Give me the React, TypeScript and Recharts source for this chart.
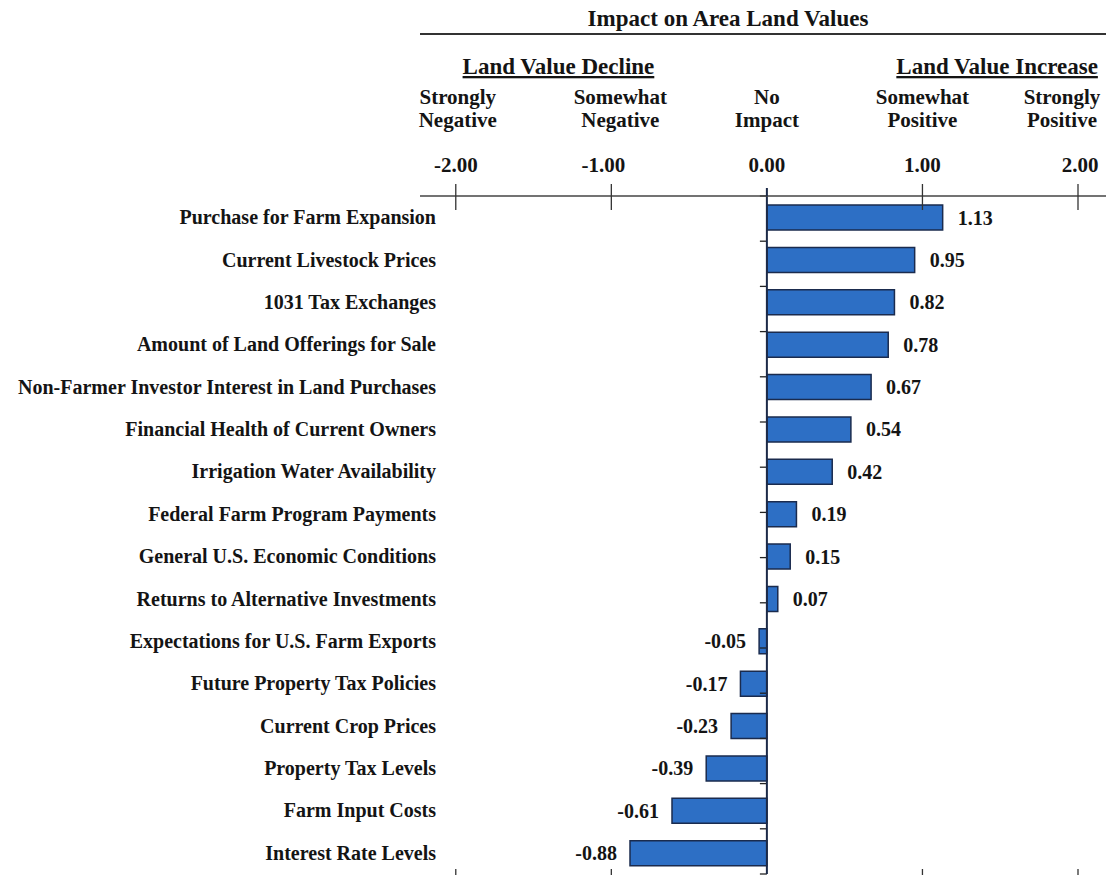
import React from 'react';
import { BarChart, Bar, XAxis, YAxis, ReferenceLine, LabelList } from 'recharts';

const categories = [
  'Purchase for Farm Expansion',
  'Current Livestock Prices',
  '1031 Tax Exchanges',
  'Amount of Land Offerings for Sale',
  'Non-Farmer Investor Interest in Land Purchases',
  'Financial Health of Current Owners',
  'Irrigation Water Availability',
  'Federal Farm Program Payments',
  'General U.S. Economic Conditions',
  'Returns to Alternative Investments',
  'Expectations for U.S. Farm Exports',
  'Future Property Tax Policies',
  'Current Crop Prices',
  'Property Tax Levels',
  'Farm Input Costs',
  'Interest Rate Levels',
];
const values = [1.13, 0.95, 0.82, 0.78, 0.67, 0.54, 0.42, 0.19, 0.15, 0.07, -0.05, -0.17, -0.23, -0.39, -0.61, -0.88];
const axisTicks = [-2, -1, 0, 1, 2];
const tickLabels = ['-2.00', '-1.00', '0.00', '1.00', '2.00'];
const scaleLabels = [
  ['Strongly', 'Negative'],
  ['Somewhat', 'Negative'],
  ['No', 'Impact'],
  ['Somewhat', 'Positive'],
  ['Strongly', 'Positive'],
];
const title = { text: 'Impact on Area Land Values', at: -0.25 };
const groupLabels = [
  { text: 'Land Value Decline', at: -1.34 },
  { text: 'Land Value Increase', at: 1.48 },
];
const boundaryTicks = [0, 1, 2, 3, 4, 5, 6, 7, 8, 9, 10, 11, 12, 13, 14, 15];
const domain: [number, number] = [-2.23, 2.18];

const data = categories.map((name, i) => ({ name, value: values[i] }));

const FONT = '"Liberation Serif", "Times New Roman", serif';
const INK = '#141414';
const BAR_FILL = '#2d6fc5';
const BAR_STROKE = '#1a2b4e';
const ZERO_LINE = '#1c2a48';

const scaleDx = [2, 9, 0, 0, -16];
const numDx = [0, -8, 0, 0, 2];

const TopTick = (props: any) => {
  const { x, y, payload } = props;
  const i = axisTicks.indexOf(payload.value);
  const lines = scaleLabels[i] || ['', ''];
  return (
    <g>
      {payload.value === 0 ? (
        <line x1={x} x2={x} y1={y - 8} y2={y} stroke={ZERO_LINE} strokeWidth={2} />
      ) : (
        <line x1={x} x2={x} y1={y - 12} y2={y + 14} stroke="#333" strokeWidth={1.3} />
      )}
      <text x={x + numDx[i]} y={y - 24} textAnchor="middle" fontFamily={FONT} fontWeight="bold" fontSize={21} fill={INK}>
        {tickLabels[i]}
      </text>
      <text x={x + scaleDx[i]} y={y - 92} textAnchor="middle" fontFamily={FONT} fontWeight="bold" fontSize={21} fill={INK}>
        {lines[0]}
      </text>
      <text x={x + scaleDx[i]} y={y - 69} textAnchor="middle" fontFamily={FONT} fontWeight="bold" fontSize={21} fill={INK}>
        {lines[1]}
      </text>
    </g>
  );
};

const BottomTick = (props: any) => {
  const { x, y, payload } = props;
  if (payload.value === 0) return <g />;
  return <line x1={x} x2={x} y1={y - 5} y2={y + 5} stroke="#333" strokeWidth={1.3} />;
};

const CategoryTick = (props: any) => {
  const { x, y, payload } = props;
  return (
    <text x={x + 16} y={y} dy="0.35em" textAnchor="end" fontFamily={FONT} fontWeight="bold" fontSize={20} fill={INK}>
      {payload.value}
    </text>
  );
};

const ValueLabel = (props: any) => {
  const { x, y, width, height, value } = props;
  const left = Math.min(x, x + width);
  const right = Math.max(x, x + width);
  const pos = value >= 0;
  return (
    <text
      x={pos ? right + 15 : left - 13}
      y={y + height / 2}
      dy="0.35em"
      textAnchor={pos ? 'start' : 'end'}
      fontFamily={FONT}
      fontWeight="bold"
      fontSize={20}
      fill={INK}
    >
      {Number(value).toFixed(2)}
    </text>
  );
};

const renderRule = (props: any) => {
  const vb = props.viewBox || {};
  const { x = 0, y = 0, width = 0 } = vb;
  return <line x1={x} x2={x + width} y1={y + 34} y2={y + 34} stroke="#333" strokeWidth={2} />;
};

const makeHeadLabel = (text: string, dy: number, underline: boolean) => (props: any) => {
  const vb = props.viewBox || {};
  return (
    <text
      x={vb.x}
      y={vb.y - dy}
      textAnchor="middle"
      fontFamily={FONT}
      fontWeight="bold"
      fontSize={23}
      fill={INK}
      textDecoration={underline ? 'underline' : undefined}
      style={underline ? { textDecoration: 'underline' } : undefined}
    >
      {text}
    </text>
  );
};

export default function App() {
  return (
    <div style={{ position: 'absolute', left: 0, top: 0, background: '#fff' }}>
      <BarChart
        width={1106}
        height={875}
        data={data}
        layout="vertical"
        margin={{ top: 0, right: 0, bottom: 0, left: 0 }}
        barSize={25}
      >
        <XAxis
          xAxisId="top"
          type="number"
          orientation="top"
          domain={domain}
          allowDataOverflow
          ticks={axisTicks}
          height={196}
          tickLine={false}
          tickSize={0}
          tickMargin={0}
          axisLine={{ stroke: '#444', strokeWidth: 1.5 }}
          tick={<TopTick />}
          interval={0}
          label={renderRule}
        />
        <XAxis
          xAxisId="bottom"
          type="number"
          orientation="bottom"
          domain={domain}
          allowDataOverflow
          ticks={axisTicks}
          height={1}
          tickLine={false}
          tickSize={0}
          tickMargin={0}
          axisLine={false}
          tick={<BottomTick />}
          interval={0}
        />
        <YAxis
          type="category"
          dataKey="name"
          width={420}
          axisLine={false}
          tickLine={false}
          tickSize={0}
          tickMargin={0}
          interval={0}
          tick={<CategoryTick />}
        />
        <YAxis yAxisId="bands" type="number" domain={[0, categories.length]} reversed hide />
        <ReferenceLine xAxisId="top" x={title.at} stroke="none" label={makeHeadLabel(title.text, 170, false)} />
        {groupLabels.map((g) => (
          <ReferenceLine key={g.text} xAxisId="top" x={g.at} stroke="none" label={makeHeadLabel(g.text, 122, true)} />
        ))}
        <Bar dataKey="value" xAxisId="top" isAnimationActive={false} fill={BAR_FILL} stroke={BAR_STROKE} strokeWidth={1.5}>
          <LabelList dataKey="value" content={<ValueLabel />} />
        </Bar>
        {boundaryTicks.map((b) => (
          <ReferenceLine
            key={`b${b}`}
            xAxisId="top"
            yAxisId="bands"
            segment={[
              { x: -0.045, y: b },
              { x: 0, y: b },
            ]}
            stroke="#222"
            strokeWidth={1.3}
          />
        ))}
        <ReferenceLine xAxisId="top" x={0} stroke={ZERO_LINE} strokeWidth={2} />
      </BarChart>
    </div>
  );
}
